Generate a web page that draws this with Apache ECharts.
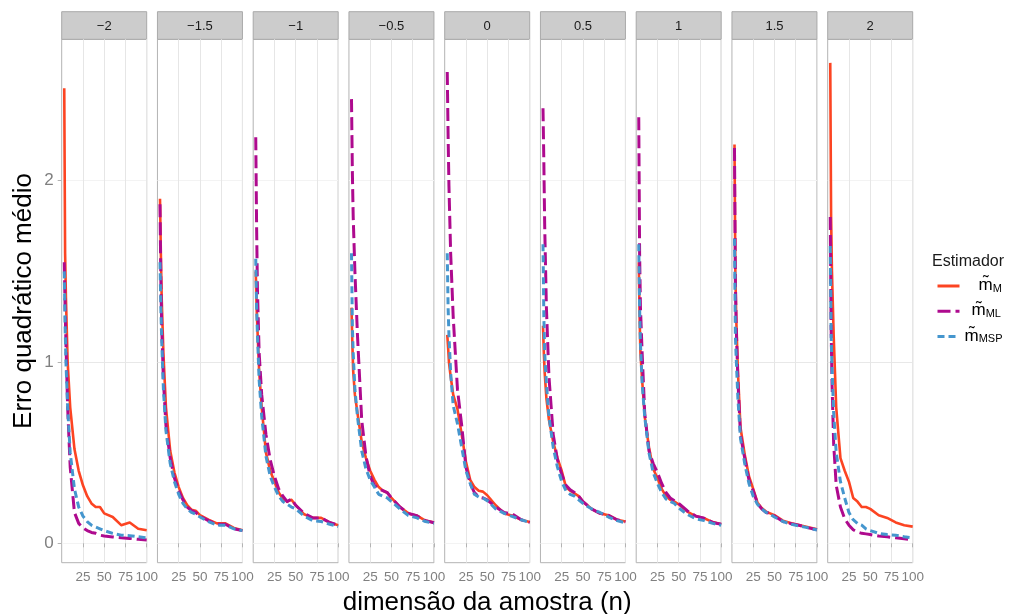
<!DOCTYPE html>
<html><head><meta charset="utf-8">
<script src="https://cdn.jsdelivr.net/npm/echarts@6/dist/echarts.min.js"></script>
<style>html,body{margin:0;padding:0;background:#fff}#c{width:1013px;height:614px}</style>
</head><body><div id="c"></div>
<script>
// ---- data ----
const facets = ['−2', '−1.5', '−1', '−0.5', '0', '0.5', '1', '1.5', '2'];
const sampleSizes = [3, 4, 5, 7, 10, 15, 20, 25, 30, 35, 40, 45, 50, 60, 70, 80, 90, 100];
const xTicks = [25, 50, 75, 100];
const yTicks = [0, 1, 2];
const estimators = ['M', 'ML', 'MSP'];

const mseM = [
  [2.51,1.6,1.35,1.0,0.75,0.52,0.4,0.32,0.26,0.22,0.2,0.2,0.165,0.145,0.1,0.115,0.08,0.072],
  [1.9,1.6,1.35,1.05,0.75,0.51,0.39,0.31,0.25,0.21,0.185,0.18,0.155,0.13,0.11,0.11,0.085,0.072],
  [1.5,1.3,1.18,0.95,0.75,0.5,0.4,0.34,0.28,0.245,0.23,0.24,0.21,0.16,0.14,0.14,0.115,0.1],
  [1.3,1.1,0.95,0.82,0.72,0.56,0.47,0.4,0.35,0.31,0.29,0.28,0.25,0.2,0.165,0.152,0.125,0.115],
  [1.15,1.08,1.0,0.92,0.82,0.74,0.6,0.45,0.35,0.31,0.29,0.285,0.265,0.21,0.165,0.152,0.13,0.118],
  [1.2,1.05,0.94,0.8,0.68,0.56,0.47,0.4,0.31,0.29,0.275,0.26,0.23,0.19,0.165,0.155,0.13,0.12],
  [1.55,1.25,1.05,0.9,0.7,0.53,0.41,0.36,0.3,0.26,0.24,0.23,0.215,0.175,0.15,0.138,0.117,0.105],
  [2.2,1.5,1.25,0.95,0.64,0.49,0.37,0.3,0.225,0.195,0.175,0.165,0.155,0.125,0.11,0.1,0.088,0.077],
  [2.65,1.8,1.5,1.15,0.75,0.47,0.4,0.34,0.25,0.23,0.2,0.2,0.19,0.155,0.14,0.115,0.1,0.092]
];
const mseML = [
  [1.55,1.3,1.1,0.75,0.42,0.17,0.11,0.085,0.07,0.06,0.055,0.045,0.04,0.035,0.03,0.027,0.022,0.018],
  [1.87,1.45,1.2,0.9,0.65,0.47,0.36,0.29,0.24,0.2,0.18,0.17,0.15,0.125,0.105,0.105,0.08,0.07],
  [2.24,1.75,1.4,1.05,0.82,0.6,0.46,0.37,0.3,0.26,0.23,0.245,0.21,0.165,0.14,0.14,0.115,0.1],
  [2.45,2.05,1.8,1.5,1.15,0.68,0.48,0.37,0.32,0.3,0.29,0.28,0.25,0.2,0.165,0.152,0.125,0.113],
  [2.6,2.25,1.97,1.6,1.25,0.85,0.65,0.42,0.33,0.28,0.255,0.25,0.24,0.2,0.17,0.16,0.13,0.115],
  [2.4,2.1,1.75,1.3,0.92,0.6,0.46,0.38,0.32,0.295,0.28,0.26,0.23,0.19,0.165,0.155,0.13,0.118],
  [2.35,1.6,1.3,1.05,0.72,0.51,0.44,0.39,0.33,0.28,0.25,0.235,0.22,0.18,0.15,0.138,0.115,0.105],
  [2.18,1.45,1.2,0.9,0.6,0.47,0.35,0.29,0.22,0.19,0.17,0.165,0.15,0.12,0.108,0.098,0.085,0.075],
  [1.8,1.2,0.9,0.55,0.32,0.2,0.135,0.1,0.075,0.062,0.055,0.052,0.048,0.04,0.036,0.03,0.025,0.02]
];
const mseMSP = [
  [1.5,1.2,1.0,0.75,0.5,0.3,0.2,0.15,0.12,0.1,0.09,0.08,0.07,0.055,0.045,0.042,0.036,0.03],
  [1.55,1.3,1.12,0.85,0.62,0.44,0.34,0.27,0.22,0.19,0.17,0.16,0.145,0.12,0.1,0.1,0.08,0.07],
  [1.57,1.3,1.15,0.9,0.7,0.48,0.37,0.31,0.26,0.23,0.215,0.2,0.19,0.15,0.125,0.12,0.105,0.093],
  [1.6,1.2,1.05,0.85,0.7,0.51,0.41,0.35,0.31,0.27,0.26,0.25,0.23,0.19,0.153,0.14,0.12,0.11],
  [1.6,1.3,1.15,0.94,0.76,0.66,0.53,0.4,0.33,0.27,0.255,0.25,0.235,0.19,0.165,0.147,0.13,0.115],
  [1.65,1.25,1.05,0.88,0.7,0.53,0.42,0.34,0.29,0.27,0.26,0.24,0.22,0.19,0.17,0.145,0.125,0.113],
  [1.65,1.3,1.1,0.88,0.7,0.5,0.39,0.33,0.28,0.245,0.23,0.22,0.195,0.16,0.135,0.125,0.11,0.1],
  [1.68,1.15,1.02,0.8,0.58,0.44,0.33,0.26,0.215,0.19,0.17,0.16,0.145,0.12,0.105,0.095,0.085,0.073],
  [1.64,1.16,0.98,0.72,0.5,0.34,0.25,0.17,0.13,0.11,0.1,0.08,0.07,0.055,0.048,0.045,0.036,0.03]
];

// ---- styling / layout ----
const FONT = '"Liberation Sans", Arial, Helvetica, sans-serif';
const seriesData = { M: mseM, ML: mseML, MSP: mseMSP };
const colors = { M: '#FC4422', ML: '#AE0A8E', MSP: '#4596CE' };
const dashes = { M: 'solid', ML: [13, 5], MSP: [7, 4] };
const widths = { M: 2.6, ML: 3, MSP: 3 };
const L0 = 61.7, STEP = 95.75, PW = 85, PT = 39.3, PH = 523.4, ST = 11.7, SH = 27.6;
const yMin = -0.107, yMax = 2.78;

const grids = [], xAxes = [], yAxes = [], series = [], graphics = [];
facets.forEach((f, i) => {
  const left = L0 + i * STEP;
  grids.push({ left: left, top: PT, width: PW, height: PH, show: true,
    borderColor: '#b3b3b3', borderWidth: 1, backgroundColor: '#fff',
    containLabel: false, outerBoundsMode: 'none' });
  xAxes.push({ gridIndex: i, type: 'value', min: 0, max: 100, interval: 25,
    axisLine: { show: false },
    axisTick: { show: true, length: 4, customValues: xTicks, lineStyle: { color: '#b3b3b3' } },
    axisLabel: { customValues: xTicks, fontSize: 13.5, color: '#808080', margin: 8, fontFamily: FONT },
    splitLine: { show: true, lineStyle: { color: '#e6e6e6', width: 1 } },
    name: i === 4 ? 'dimensão da amostra (n)' : '', nameLocation: 'middle', nameGap: 21,
    nameTextStyle: { fontSize: 26, color: '#000', fontFamily: FONT, verticalAlign: 'top' } });
  yAxes.push({ gridIndex: i, type: 'value', min: yMin, max: yMax, splitNumber: 6,
    axisLine: { show: false },
    axisTick: { show: i === 0, length: 4, customValues: yTicks, lineStyle: { color: '#b3b3b3' } },
    axisLabel: { show: i === 0, customValues: yTicks, fontSize: 17, color: '#808080', margin: 8, fontFamily: FONT },
    splitLine: { show: true, lineStyle: { color: ['#f3f3f3', '#e8e8e8'], width: 1 } },
    name: i === 0 ? 'Erro quadrático médio' : '', nameLocation: 'middle', nameGap: 25,
    nameTextStyle: { fontSize: 26, color: '#000', fontFamily: FONT } });
  estimators.forEach(e => {
    series.push({ name: e, type: 'line', xAxisIndex: i, yAxisIndex: i,
      data: sampleSizes.map((n, j) => [n, seriesData[e][i][j]]),
      showSymbol: false, symbol: 'none', clip: true, silent: true,
      lineStyle: { color: colors[e], width: widths[e], type: dashes[e], cap: 'butt', join: 'round' },
      itemStyle: { color: colors[e] } });
  });
  graphics.push({ type: 'rect', x: left, y: ST, shape: { x: 0, y: 0, width: PW, height: SH },
    style: { fill: '#cccccc', stroke: '#a9a9a9', lineWidth: 1 }, silent: true });
  graphics.push({ type: 'text', x: left + PW / 2, y: ST + SH / 2 + 1,
    style: { text: f, fill: '#1a1a1a', font: '13px ' + FONT, textAlign: 'center', textVerticalAlign: 'middle', align: 'center', verticalAlign: 'middle' }, silent: true });
});

const padW = [14, 7];
const option = {
  animation: false,
  backgroundColor: '#fff',
  textStyle: { fontFamily: FONT },
  title: { text: 'Estimador', left: 927, top: 249,
    textStyle: { fontSize: 16, fontWeight: 'normal', color: '#1a1a1a', fontFamily: FONT } },
  legend: { orient: 'vertical', left: 931, top: 272, itemWidth: 22, itemHeight: 14, itemGap: 8.3,
    data: estimators,
    itemStyle: { opacity: 0 },
    lineStyle: { width: 3 },
    formatter: name => {
      const k = estimators.indexOf(name);
      return (k < 2 ? `{p${k}| }` : '') + `{m|m̃}{s|${name}}`;
    },
    textStyle: { rich: {
      p0: { width: padW[0], lineHeight: 16 }, p1: { width: padW[1], lineHeight: 16 },
      m: { fontSize: 17, color: '#000', fontFamily: FONT, lineHeight: 16, verticalAlign: 'bottom' },
      s: { fontSize: 11, color: '#000', fontFamily: FONT, lineHeight: 11, verticalAlign: 'bottom' }
    } } },
  grid: grids, xAxis: xAxes, yAxis: yAxes, series: series, graphic: graphics
};
const chart = echarts.init(document.getElementById('c'), null, { renderer: 'canvas' });
chart.setOption(option);
</script></body></html>
